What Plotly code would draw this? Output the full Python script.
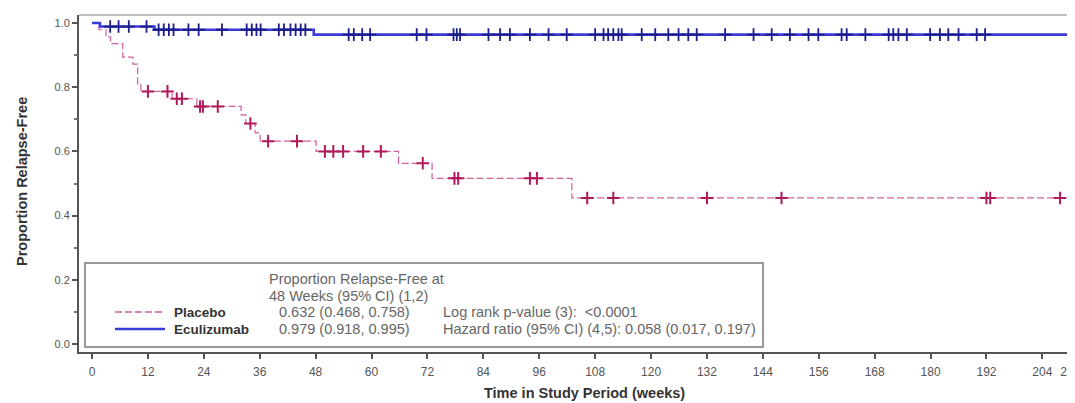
import plotly.graph_objects as go

# ---------------- data ----------------
placebo_event_weeks = [0, 1.5, 3.0, 4.0, 6.6, 8.8, 9.8, 10.5, 17.2, 22.5, 32.0, 33.0,
                       35.0, 36.1, 48.1, 65.8, 73.0, 103.0]
placebo_survival = [1.0, 0.979, 0.957, 0.936, 0.894, 0.872, 0.809, 0.787, 0.764, 0.740,
                    0.714, 0.687, 0.658, 0.632, 0.600, 0.563, 0.516, 0.455]
placebo_censor_weeks = [12.0, 16.2, 18.2, 19.3, 23.2, 23.8, 27.0, 34.0, 37.8, 44.0, 50.0,
                        51.8, 53.9, 58.2, 62.0, 71.0, 77.8, 78.6, 94.0, 95.5, 106.3, 111.9,
                        132.0, 148.0, 192.0, 192.8, 207.8]

ecu_event_weeks = [0, 1.7, 13.4, 47.6]
ecu_survival = [1.0, 0.989, 0.979, 0.964]
ecu_censor_weeks = [3.9, 5.7, 7.9, 11.7, 14.3, 15.4, 16.5, 17.5, 20.7, 22.9, 27.9, 33.2,
                    34.3, 35.3, 36.2, 40.1, 41.2, 42.6, 43.7, 44.8, 45.8, 55.1, 56.2, 58.0,
                    59.7, 69.7, 71.8, 77.6, 78.3, 79.0, 85.1, 87.6, 89.7, 94.0, 98.0, 101.9,
                    108.0, 109.8, 110.8, 111.9, 113.0, 113.7, 118.0, 120.9, 123.7, 125.9,
                    128.0, 129.8, 135.9, 142.0, 145.9, 149.8, 153.8, 155.9, 160.9, 162.0,
                    166.0, 171.0, 172.0, 173.1, 174.9, 179.9, 182.0, 183.8, 186.0, 189.9,
                    191.7, 210.6]

x_tick_values = [0, 12, 24, 36, 48, 60, 72, 84, 96, 108, 120, 132, 144, 156, 168, 180,
                 192, 204, 210]
x_tick_labels = [str(v) for v in x_tick_values]
y_tick_values = [0.0, 0.2, 0.4, 0.6, 0.8, 1.0]
y_tick_labels = ["0.0", "0.2", "0.4", "0.6", "0.8", "1.0"]

legend_header = ["Proportion Relapse-Free at", "48 Weeks (95% CI) (1,2)"]
group_names = ["Placebo", "Eculizumab"]
group_estimates = ["0.632 (0.468, 0.758)", "0.979 (0.918, 0.995)"]
group_stats = ["Log rank p-value (3):  <0.0001",
               "Hazard ratio (95% CI) (4,5): 0.058 (0.017, 0.197)"]

x_title = "Time in Study Period (weeks)"
y_title = "Proportion Relapse-Free"

PLACEBO_LINE = "#d0609a"
PLACEBO_MARK = "#b01a5c"
ECU_LINE = "#3a3ad8"
ECU_MARK = "#1c1c8c"


def km_value(event_weeks, survival, t):
    val = survival[0]
    for w, s in zip(event_weeks, survival):
        if w <= t:
            val = s
    return val


def km_path(event_weeks, survival, end_week):
    xs = list(event_weeks) + [end_week]
    ys = list(survival) + [survival[-1]]
    return xs, ys


# page has an 8px body margin; work in figure coordinates = screen - 8
OFF = 8
W, H = 1075 - OFF, 403 - OFF
ML, MR, MT, MB = 79 - OFF, 0, 15 - OFF, H - (352 - OFF)


def px(x):
    return (x - OFF - ML) / (W - ML - MR)


def py(y):
    return (H - MB - (y - OFF)) / (H - MB - MT)


fig = go.Figure()

# Placebo curve
pxs, pys = km_path(placebo_event_weeks, placebo_survival, max(placebo_censor_weeks))
fig.add_trace(go.Scatter(x=pxs, y=pys, mode="lines", line_shape="hv",
                         line=dict(color=PLACEBO_LINE, width=1.2, dash="7px,3px"),
                         showlegend=False, hoverinfo="skip"))
fig.add_trace(go.Scatter(x=placebo_censor_weeks,
                         y=[km_value(placebo_event_weeks, placebo_survival, t) for t in placebo_censor_weeks],
                         mode="markers",
                         marker=dict(symbol="cross-thin", size=9,
                                     line=dict(color=PLACEBO_MARK, width=2)),
                         showlegend=False))

# Eculizumab curve
exs, eys = km_path(ecu_event_weeks, ecu_survival, max(ecu_censor_weeks))
fig.add_trace(go.Scatter(x=exs, y=eys, mode="lines", line_shape="hv",
                         line=dict(color=ECU_LINE, width=2.6),
                         showlegend=False, hoverinfo="skip"))
fig.add_trace(go.Scatter(x=ecu_censor_weeks,
                         y=[km_value(ecu_event_weeks, ecu_survival, t) for t in ecu_censor_weeks],
                         mode="markers",
                         marker=dict(symbol="cross-thin", size=9,
                                     line=dict(color=ECU_MARK, width=1.8)),
                         showlegend=False))

FONT = "Liberation Sans, Arial, sans-serif"

fig.update_layout(
    width=W, height=H,
    margin=dict(l=ML, r=MR, t=MT, b=MB, autoexpand=False),
    paper_bgcolor="white", plot_bgcolor="white",
    font=dict(family=FONT, color="#555"),
    xaxis=dict(range=[-2.79, 211.0], tickvals=x_tick_values, ticktext=x_tick_labels,
               ticks="outside", ticklen=5, tickwidth=1.5, tickcolor="#555",
               showline=True, linecolor="#555", linewidth=2,
               showgrid=False, zeroline=False, ticklabeloverflow="allow",
               tickfont=dict(size=12, color="#555"), ticklabelstandoff=3),
    yaxis=dict(range=[-0.025, 1.025], tickvals=y_tick_values, ticktext=y_tick_labels,
               ticks="outside", ticklen=5, tickwidth=1.5, tickcolor="#555",
               minor=dict(ticks="outside", dtick=0.1, ticklen=3, tickcolor="#777"),
               showline=True, linecolor="#555", linewidth=2,
               showgrid=False, zeroline=False,
               tickfont=dict(size=11, color="#555")),
)

shapes = []
# top frame line
shapes.append(dict(type="line", xref="paper", yref="paper", x0=0, x1=1, y0=1, y1=1,
                   line=dict(color="#aaa", width=1.5)))
# legend box
shapes.append(dict(type="rect", xref="paper", yref="paper",
                   x0=px(85), x1=px(763), y0=py(347), y1=py(263),
                   line=dict(color="#999", width=2), fillcolor="white", layer="above"))
# legend sample lines
shapes.append(dict(type="line", xref="paper", yref="paper",
                   x0=px(115), x1=px(165), y0=py(312), y1=py(312),
                   line=dict(color=PLACEBO_LINE, width=1.3, dash="7px,3px"), layer="above"))
shapes.append(dict(type="line", xref="paper", yref="paper",
                   x0=px(115), x1=px(165), y0=py(329), y1=py(329),
                   line=dict(color=ECU_LINE, width=2.6), layer="above"))
fig.update_layout(shapes=shapes)

ann = []
txt_font = dict(family=FONT, size=14.5, color="#666")
ann.append(dict(text=legend_header[0], x=px(267), y=py(279)))
ann.append(dict(text=legend_header[1], x=px(267), y=py(296)))
for i, yy in enumerate([312, 329]):
    ann.append(dict(text="<b>" + group_names[i] + "</b>", x=px(172), y=py(yy),
                    font=dict(family=FONT, size=13.5, color="#333")))
    ann.append(dict(text=group_estimates[i], x=px(277), y=py(yy)))
    ann.append(dict(text=group_stats[i], x=px(441), y=py(yy)))
for a in ann:
    a.update(xref="paper", yref="paper", xanchor="left", yanchor="middle", showarrow=False)
    a.setdefault("font", txt_font)

ann.append(dict(text="<b>" + x_title + "</b>", x=px(584), y=py(393), xref="paper", yref="paper",
                xanchor="center", yanchor="middle", showarrow=False,
                font=dict(family=FONT, size=14.5, color="#333")))
ann.append(dict(text="<b>" + y_title + "</b>", x=px(22), y=py(182), xref="paper", yref="paper",
                xanchor="center", yanchor="middle", showarrow=False, textangle=-90,
                font=dict(family=FONT, size=14.5, color="#333")))
fig.update_layout(annotations=ann)

fig.write_html("out.html")
